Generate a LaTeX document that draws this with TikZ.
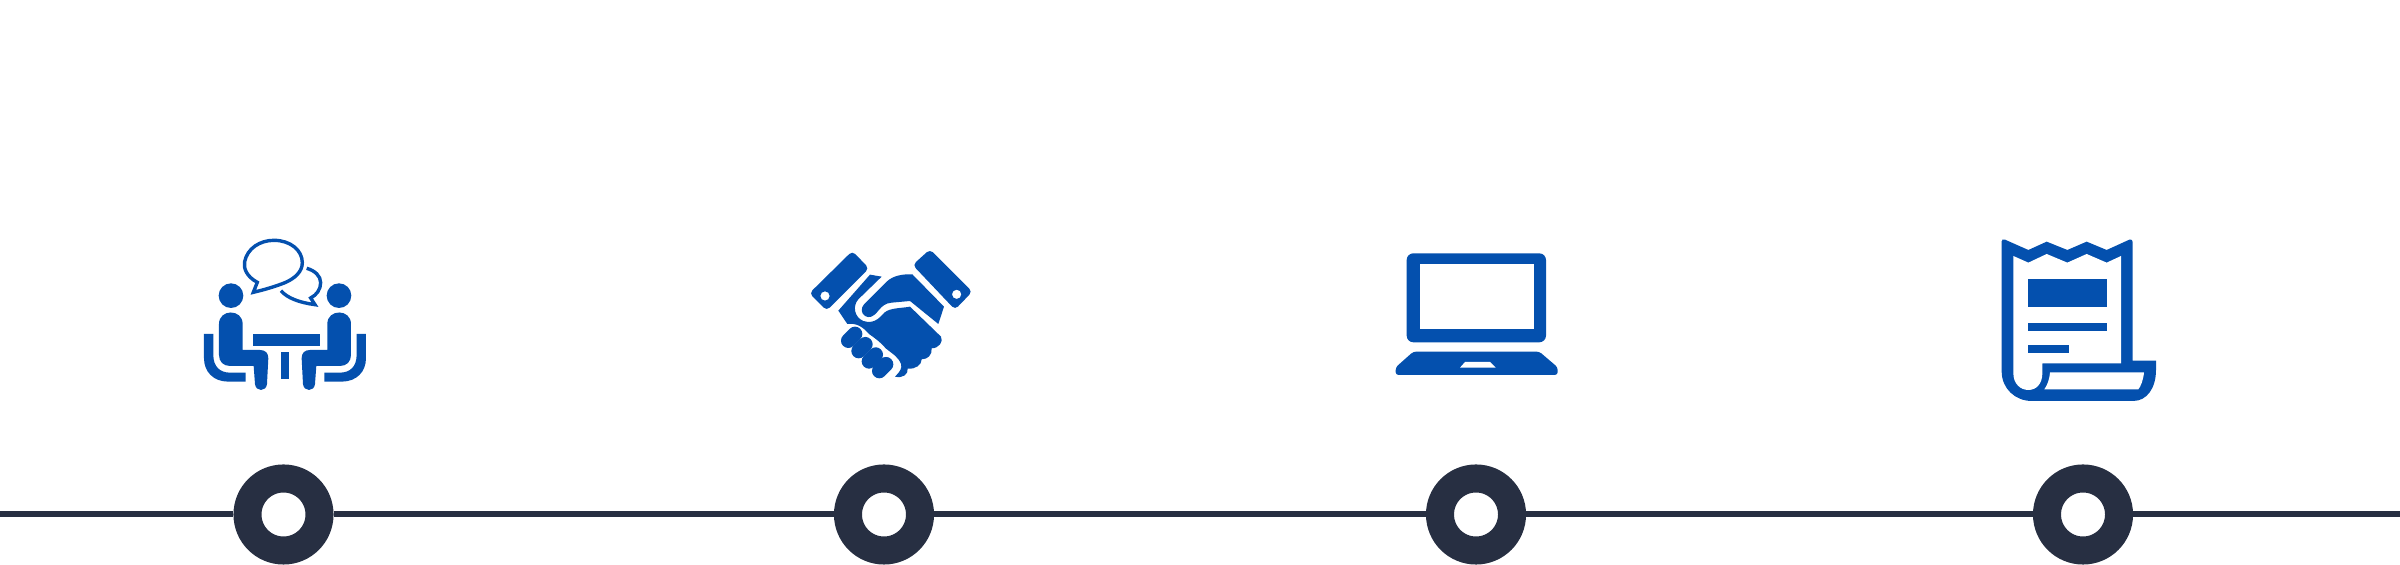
\documentclass[tikz,border=0pt]{standalone}
\definecolor{iconblue}{HTML}{0450AE}
\definecolor{ringdark}{HTML}{272F42}
\begin{document}
\begin{tikzpicture}[x=0.01cm,y=-0.01cm]
	\tikzstyle{ring}=[circle,draw=ringdark,line width=0.28cm,fill=white,minimum size=0.72cm,inner sep=0pt]
	\tikzstyle{rail}=[draw=ringdark,line width=0.06cm]
	\tikzstyle{icon}=[fill=iconblue,even odd rule]
	\tikzstyle{bubble}=[draw=iconblue,line width=0.034cm,line join=miter]
	\tikzstyle{finger}=[draw=iconblue,line width=0.147cm,line cap=round]
	\useasboundingbox (0,0) rectangle (2400,565);
	\coordinate (t_start) at (0,514.5);
	\coordinate (t_end) at (2400,514.5);
	\node[ring] (t_1) at (283.5,514.5) {};
	\node[ring] (t_2) at (884,514.5) {};
	\node[ring] (t_3) at (1476,514.5) {};
	\node[ring] (t_4) at (2083,514.5) {};
	\draw[rail] (t_start) -- (t_1) (t_1) -- (t_2) (t_2) -- (t_3) (t_3) -- (t_4) (t_4) -- (t_end);
	% meeting
	\begin{scope}[shift={(150,230)},scale=0.3333]
		\foreach \side/\flip in {0/1,810/-1} {
			\begin{scope}[shift={(\side,0)},xscale=\flip]
				\fill[icon] (243,197) circle (37);
				\fill[icon] (207,282) .. controls (207,236) and (278,236) .. (278,282) -- (278,360) -- (330,360)
					.. controls (347,360) and (355,370) .. (355,385) -- (351,462)
					.. controls (349,486) and (317,486) .. (315,462) -- (311,408) -- (240,408)
					.. controls (220,408) and (207,395) .. (207,375) -- cycle;
				\fill[icon] (162,312) -- (190,312) -- (190,375) .. controls (190,410) and (210,428) .. (240,428)
					-- (287,428) -- (287,455) -- (235,455) .. controls (190,455) and (162,425) .. (162,385) -- cycle;
			\end{scope}
		}
		\fill[icon] (308,313) rectangle (510,347);
		\fill[icon] (393,365) rectangle (417,448);
		\draw[bubble] (322,157) .. controls (290,140) and (280,115) .. (284,95)
			.. controls (292,55) and (330,31) .. (372,31)
			.. controls (420,31) and (457,60) .. (457,98)
			.. controls (457,125) and (435,145) .. (405,158)
			.. controls (375,170) and (340,180) .. (310,187) -- cycle;
		\draw[bubble] (470,115) .. controls (495,122) and (512,138) .. (512,158)
			.. controls (512,178) and (500,195) .. (482,204) -- (495,224)
			.. controls (450,218) and (412,205) .. (393,182);
	\end{scope}
	% handshake
	\begin{scope}[shift={(795,240)},scale=0.3333]
		\fill[icon,rounded corners=1.2pt] (172,33) -- (222,85) -- (95,212) -- (43,160) -- cycle
			(90,168) [sharp corners] circle (14);
		\fill[icon,rounded corners=1.2pt] (405,28) -- (532,155) -- (480,209) -- (353,75) -- cycle
			(485,163) [sharp corners] circle (14);
		\fill[icon] (352,103) -- (447,200) -- (430,252) -- (345,183) -- (290,188)
			.. controls (270,190) and (262,198) .. (250,212)
			.. controls (235,232) and (222,235) .. (210,228)
			.. controls (198,220) and (197,205) .. (207,193) -- (275,125)
			.. controls (295,106) and (325,102) .. (352,103) -- cycle;
		\fill[icon] (225,104) -- (260,110) -- (190,178)
			.. controls (172,198) and (178,232) .. (205,243)
			.. controls (235,252) and (250,238) .. (268,218)
			.. controls (285,203) and (320,205) .. (345,200) -- (438,290)
			.. controls (446,305) and (432,325) .. (410,325)
			.. controls (412,345) and (398,358) .. (380,358)
			.. controls (380,375) and (362,388) .. (338,386)
			.. controls (340,402) and (325,416) .. (300,410)
			.. controls (315,395) and (322,385) .. (318,372)
			.. controls (310,350) and (290,340) .. (272,325)
			.. controls (255,305) and (240,295) .. (222,282)
			.. controls (205,262) and (185,248) .. (157,252) -- (130,212) -- cycle;
		\foreach \fx/\fy in {170/292,201/323,232/354,263/383} {
			\draw[finger] (\fx-10,\fy+10) -- (\fx+10,\fy-10);
		}
	\end{scope}
	% laptop
	\begin{scope}[shift={(1380,240)},scale=0.3333]
		\fill[icon,rounded corners=1.9pt] (80,40) rectangle (498,307);
		\fill[white] (120,73) rectangle (462,268);
		\fill[icon,rounded corners=0.8pt] (100,335) -- (478,335) -- (533,382) -- (533,405) -- (47,405) -- (47,382) -- cycle;
		\fill[white] (255,366) -- (330,366) -- (347,383) -- (240,383) -- cycle;
	\end{scope}
	% receipt
	\begin{scope}[shift={(2010,230)},scale=0.3333]
		\fill[icon] (-25,34) .. controls (-25,28) and (-20,27) .. (-15,29) -- (55,60) -- (110,35) -- (172,60) -- (230,35) -- (290,60) -- (358,29)
			.. controls (364,27) and (368,30) .. (368,36)
			-- (368,392) -- (438,392) -- (438,420) .. controls (438,475) and (410,513) .. (370,513)
			-- (65,513) .. controls (15,513) and (-25,475) .. (-25,425) -- cycle;
		\fill[white] (10,78) -- (55,98) -- (110,72) -- (172,98) -- (230,72) -- (290,98) -- (333,78)
			-- (333,400) -- (97,400) -- (97,430) .. controls (97,460) and (80,480) .. (55,480)
			.. controls (30,480) and (10,460) .. (10,430) -- cycle;
		\fill[white] (120,427) -- (402,427) .. controls (400,450) and (392,470) .. (385,478) -- (103,478)
			.. controls (112,465) and (118,450) .. (120,427) -- cycle;
		\fill[icon] (54,148) rectangle (290,232);
		\fill[icon] (54,280) rectangle (290,302);
		\fill[icon] (54,346) rectangle (177,369);
	\end{scope}
\end{tikzpicture}
\end{document}
